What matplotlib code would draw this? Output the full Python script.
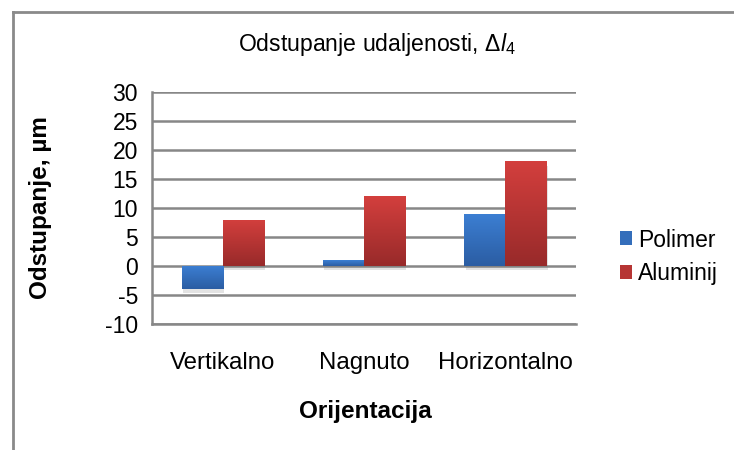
import matplotlib.pyplot as plt
import matplotlib.patheffects as pe
import numpy as np
from matplotlib.lines import Line2D
from matplotlib.colors import LinearSegmentedColormap

plt.rcParams['font.family'] = ['Liberation Sans', 'DejaVu Sans']
plt.rcParams['axes.unicode_minus'] = False
plt.rcParams['mathtext.fontset'] = 'custom'
plt.rcParams['mathtext.rm'] = 'Liberation Sans'
plt.rcParams['mathtext.it'] = 'Liberation Sans:italic'

categories = ['Vertikalno', 'Nagnuto', 'Horizontalno']
polimer = [-4, 1, 9]
aluminij = [8, 12, 18]
series_names = ['Polimer', 'Aluminij']
y_ticks = list(range(-10, 31, 5))

grad_blue = LinearSegmentedColormap.from_list('blue', ['#2b5da3', '#3c7fd3'])
grad_red = LinearSegmentedColormap.from_list('red', ['#982a2a', '#d33f3d'])

fig = plt.figure(figsize=(7.34, 4.5), dpi=100)
ax = fig.add_axes([0.207, 0.28, 0.578, 0.516])

x = np.arange(len(categories))
w = 0.29
grid_col = '#878787'

for yv in y_ticks:
    ax.axhline(yv, color=grid_col, lw=1.8, zorder=0)

shadow = [pe.SimplePatchShadow(offset=(1, -3), shadow_rgbFace='#777777', alpha=0.2), pe.Normal()]

def gradient_bars(xs, vals, cmap, label):
    bars = ax.bar(xs, vals, w, color=cmap(0.5), label=label, zorder=2,
                  path_effects=shadow, linewidth=0)
    grad = np.linspace(0, 1, 100).reshape(-1, 1)
    for b in bars:
        x0, y0 = b.get_x(), b.get_y()
        x1, y1 = x0 + b.get_width(), y0 + b.get_height()
        lo, hi = min(y0, y1), max(y0, y1)
        im = ax.imshow(grad, cmap=cmap, origin='lower', aspect='auto',
                       extent=[x0, x1, lo, hi], zorder=3)
        im.set_clip_path(b)
    return bars

gradient_bars(x - w / 2, polimer, grad_blue, series_names[0])
gradient_bars(x + w / 2, aluminij, grad_red, series_names[1])

ax.set_xlim(-0.5, len(categories) - 0.5)
ax.set_ylim(-10, 30)
ax.set_yticks(y_ticks)
ax.yaxis.set_major_formatter(lambda v, p: f'{v:g}')
ax.set_xticks(x)
ax.set_xticklabels(categories, fontsize=17.3)
ax.tick_params(axis='y', labelsize=16.5, length=0, pad=10)
ax.tick_params(axis='x', length=0, pad=20)

for s in ['top', 'right']:
    ax.spines[s].set_visible(False)
for s in ['left', 'bottom']:
    ax.spines[s].set_color(grid_col)
    ax.spines[s].set_linewidth(1.8)

ax.set_ylabel('Odstupanje, µm', fontsize=17.5, fontweight='bold')
ax.yaxis.label.set_va('center')
ax.yaxis.set_label_coords(-0.262, 0.5)
ax.set_xlabel('Orijentacija', fontsize=17.5, fontweight='bold')
ax.xaxis.label.set_va('center')
ax.xaxis.set_label_coords(0.502, -0.375)

fig.text(0.513, 0.9, r'Odstupanje udaljenosti, $\mathrm{\Delta}\mathit{l}_4$', ha='center',
         va='center', fontsize=16.6)

leg = ax.legend(loc='center left', bbox_to_anchor=(1.054, 0.29), frameon=False,
                fontsize=16.5, handlelength=0.55, handleheight=0.55,
                handletextpad=0.25, labelspacing=0.45)
for h in leg.legend_handles:
    h.set_path_effects([])

# outer chart frame
fig.add_artist(Line2D([13 / 734, 13 / 734], [0, 1 - 12 / 450], color='#8a8a8a', lw=2))
fig.add_artist(Line2D([13 / 734, 733 / 734], [1 - 12 / 450, 1 - 12 / 450], color='#8a8a8a', lw=2))

fig.savefig('out.png', dpi=100)
